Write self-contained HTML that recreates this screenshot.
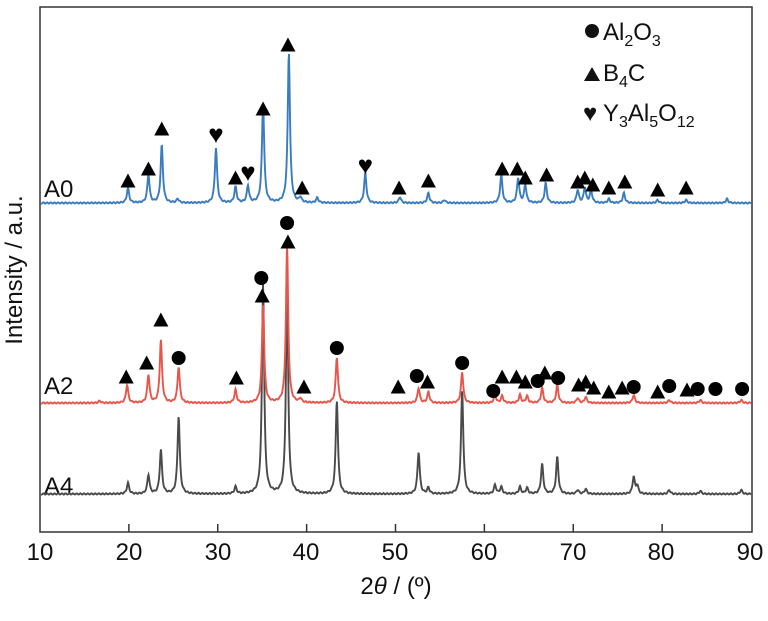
<!DOCTYPE html><html><head><style>body{margin:0;background:#fff}svg{font-family:"Liberation Sans",Arial,sans-serif}</style></head><body>
<svg id="s" width="768" height="616" viewBox="0 0 768 616" xmlns="http://www.w3.org/2000/svg">
<rect x="40" y="7" width="712" height="525" fill="none" stroke="#333" stroke-width="1.5"/>
<g id="ticks" stroke="#333" stroke-width="1.5"></g>
<g font-size="24" text-anchor="middle" fill="#111">
<text x="40" y="560">10</text><text x="129" y="560">20</text><text x="218" y="560">30</text><text x="306" y="560">40</text><text x="395" y="560">50</text><text x="484" y="560">60</text><text x="573" y="560">70</text><text x="661" y="560">80</text><text x="750" y="560">90</text>
<text x="396" y="594">2<tspan font-style="italic">θ</tspan> / (º)</text>
<text transform="translate(22,270) rotate(-90)">Intensity / a.u.</text>
</g>
<g font-size="24" fill="#111"><text x="44" y="197">A0</text><text x="44" y="394">A2</text><text x="44" y="494">A4</text></g>
<g id="lines" fill="none" stroke-width="1.9"></g>
<g id="marks" fill="#000"></g>
<g font-size="24" fill="#111">
<circle cx="592" cy="31" r="7"/><text x="603" y="40">Al<tspan font-size="16" dy="6">2</tspan><tspan dy="-6">O</tspan><tspan font-size="16" dy="6">3</tspan></text>
<path d="M584,81 L600,81 L592,67Z"/><text x="603" y="81">B<tspan font-size="16" dy="6">4</tspan><tspan dy="-6">C</tspan></text>
<text x="583" y="121" font-size="24">♥</text><text x="603" y="121">Y<tspan font-size="16" dy="6">3</tspan><tspan dy="-6">Al</tspan><tspan font-size="16" dy="6">5</tspan><tspan dy="-6">O</tspan><tspan font-size="16" dy="6">12</tspan></text>
</g>
</svg>
<script>
var X=v=>40+(v-10)*8.8875;
var t=document.getElementById('ticks'),h='';
for(var v=20;v<90;v+=10)h+='<line x1="'+X(v)+'" y1="532" x2="'+X(v)+'" y2="524"/>';t.innerHTML=h;
function line(base,peaks,col){var p='';for(var px=41;px<=751;px+=0.5){var v=10+(px-40)/8.8875,y=0;for(var k of peaks){var d=(v-k[0])/0.15;y+=k[1]/(1+d*d);}p+=(p?'L':'M')+px+','+(base-y+Math.sin(px*1.7)*0.6).toFixed(1);}return '<path d="'+p+'" stroke="'+col+'"/>';}
var A0=[[19.9,15],[22.2,28],[23.7,58],[25.5,4],[29.8,55],[32,16],[33.4,17],[35.1,100],[38,151],[39.3,5],[41.2,5],[46.6,30],[50.5,6],[53.7,10],[55.5,3],[61.9,28],[63.8,25],[64.6,18],[66.9,20],[70.5,13],[71.3,15],[72,13],[74,4],[75.7,10],[79.5,3],[82.7,3],[87.3,4]];
var A2=[[16.7,2],[19.8,18],[22.2,28],[23.6,63],[25.6,36],[32,13],[35.1,98],[37.8,158],[39.3,4],[43.4,46],[52.6,15],[53.7,11],[57.5,31],[61.2,8],[62,7],[64,8],[64.8,7],[66.5,15],[68.2,18],[70.5,5],[71.4,6],[76.8,8],[80.8,3],[84.3,3],[88.9,3]];
var A4=[[19.9,11],[22.2,19],[23.6,44],[25.6,78],[32,7],[35.1,210],[37.8,210],[43.4,94],[52.6,42],[53.7,6],[57.5,104],[61.2,9],[61.9,7],[64,7],[64.8,6],[66.5,30],[68.2,37],[70.5,4],[71.4,5],[76.8,17],[77.2,8],[80.8,4],[84.3,3],[88.9,4]];
document.getElementById('lines').innerHTML=line(494,A4,'#4a4a4a')+line(403,A2,'#e8554a')+line(203,A0,'#3a7cc0');
var tri=[[19.9,181],[22.2,169],[23.7,129],[32,178],[35.1,109],[37.9,45],[39.5,188],[50.4,188],[53.7,181],[62,169],[63.7,169],[64.6,178],[67,175],[70.5,182],[71.3,178],[72.2,185],[74,188],[75.8,182],[79.5,190],[82.7,188],
[19.7,377],[22,363],[23.6,320],[32.1,378],[35,296],[37.9,242],[39.7,387],[50.3,387],[53.6,382],[62,377],[63.6,377],[64.6,382],[66.8,373],[70.6,385],[71.4,382],[72.3,388],[74,392],[75.5,388],[79.5,392],[82.8,390]];
var cir=[[25.6,358],[34.9,278],[37.8,223],[43.4,348],[52.4,376],[57.5,363],[61,391],[66,381],[68.3,378],[76.8,387],[80.8,386],[84,389],[86,389],[89,389]];
var m='';for(var a of tri){var x=X(a[0]);m+='<path d="M'+(x-7.5)+','+(a[1]+6.5)+' L'+(x+7.5)+','+(a[1]+6.5)+' L'+x+','+(a[1]-7.5)+'Z"/>';}
for(var a of cir)m+='<circle cx="'+X(a[0])+'" cy="'+a[1]+'" r="7"/>';
for(var a of [[29.8,134],[33.4,172],[46.6,165]])m+='<text x="'+X(a[0])+'" y="'+(a[1]+9)+'" font-size="26" text-anchor="middle">♥</text>';
document.getElementById('marks').innerHTML=m;
</script></body></html>
